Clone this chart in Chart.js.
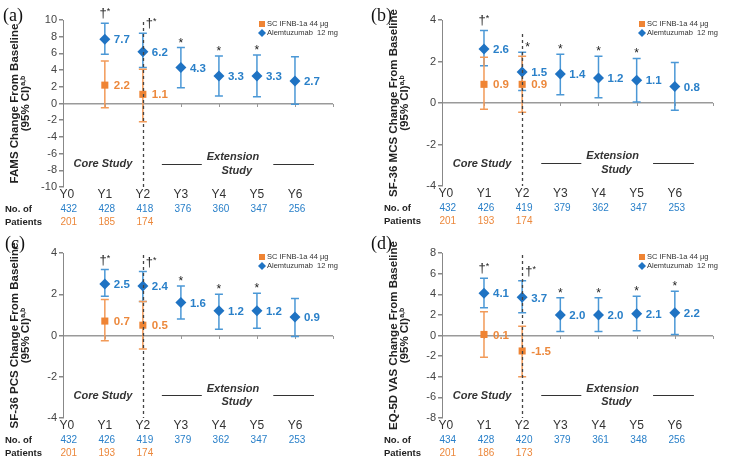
<!DOCTYPE html>
<html>
<head>
<meta charset="utf-8">
<script src="https://cdn.jsdelivr.net/npm/chart.js@4/dist/chart.umd.min.js"></script>
<style>
  body { margin: 0; background: #fff; width: 740px; height: 463px; position: relative; overflow: hidden; }
  canvas { position: absolute; }
</style>
</head>
<body>
<canvas id="pa" width="370" height="230" style="left:0;top:0"></canvas>
<canvas id="pb" width="370" height="230" style="left:370px;top:0"></canvas>
<canvas id="pc" width="370" height="233" style="left:0;top:230px"></canvas>
<canvas id="pd" width="370" height="233" style="left:370px;top:230px"></canvas>
<script>
const years = ["Y0", "Y1", "Y2", "Y3", "Y4", "Y5", "Y6"];

// (a) FAMS — alemtuzumab at Y1..Y6, IFNB at Y1..Y2
const famsAlem = [7.7, 6.2, 4.3, 3.3, 3.3, 2.7];
const famsAlemLo = [5.9, 4.3, 1.9, 0.9, 0.8, -0.1];
const famsAlemHi = [9.6, 8.4, 6.7, 5.7, 5.8, 5.6];
const famsIfn = [2.2, 1.1];
const famsIfnLo = [-0.5, -2.2];
const famsIfnHi = [5.1, 4.1];
const famsNAlem = [432, 428, 418, 376, 360, 347, 256];
const famsNIfn = [201, 185, 174];
const famsMarks = ["†*", "†*", "*", "*", "*", ""];

// (b) SF-36 MCS
const mcsAlem = [2.6, 1.5, 1.4, 1.2, 1.1, 0.8];
const mcsAlemLo = [1.8, 0.6, 0.4, 0.25, 0.05, -0.35];
const mcsAlemHi = [3.5, 2.45, 2.35, 2.25, 2.15, 1.95];
const mcsIfn = [0.9, 0.9];
const mcsIfnLo = [-0.3, -0.45];
const mcsIfnHi = [2.2, 2.25];
const mcsNAlem = [432, 426, 419, 379, 362, 347, 253];
const mcsNIfn = [201, 193, 174];
const mcsMarks = ["†*", "*", "*", "*", "*", ""];

// (c) SF-36 PCS
const pcsAlem = [2.5, 2.4, 1.6, 1.2, 1.2, 0.9];
const pcsAlemLo = [1.9, 1.65, 0.8, 0.3, 0.35, -0.05];
const pcsAlemHi = [3.2, 3.1, 2.4, 2.0, 2.05, 1.8];
const pcsIfn = [0.7, 0.5];
const pcsIfnLo = [-0.25, -0.65];
const pcsIfnHi = [1.75, 1.65];
const pcsNAlem = [432, 426, 419, 379, 362, 347, 253];
const pcsNIfn = [201, 193, 174];
const pcsMarks = ["†*", "†*", "*", "*", "*", ""];

// (d) EQ-5D VAS
const vasAlem = [4.1, 3.7, 2.0, 2.0, 2.1, 2.2];
const vasAlemLo = [2.7, 2.2, 0.4, 0.4, 0.45, 0.1];
const vasAlemHi = [5.55, 5.3, 3.65, 3.65, 3.8, 4.3];
const vasIfn = [0.1, -1.5];
const vasIfnLo = [-2.1, -4.0];
const vasIfnHi = [2.3, 0.9];
const vasNAlem = [434, 428, 420, 379, 361, 348, 256];
const vasNIfn = [201, 186, 173];
const vasMarks = ["†*", "†*", "*", "*", "*", "*"];

const BLUE = "#1f73c3", BLUE_BAR = "#4b98d6", BLUE_TXT = "#2a80c9";
const ORANGE = "#ef8434", ORANGE_BAR = "#f29a58", ORANGE_TXT = "#ec883c";
const FONT = '"Liberation Sans", Arial, sans-serif';

function errBar(ctx, xs, ys, xv, lo, hi, color) {
  const px = xs.getPixelForValue(xv);
  const a = ys.getPixelForValue(lo), b = ys.getPixelForValue(hi);
  ctx.strokeStyle = color;
  ctx.lineWidth = 1.5;
  ctx.beginPath();
  ctx.moveTo(px, a); ctx.lineTo(px, b);
  ctx.moveTo(px - 4, a); ctx.lineTo(px + 4, a);
  ctx.moveTo(px - 4, b); ctx.lineTo(px + 4, b);
  ctx.stroke();
}

function panel(id, p) {
  const el = document.getElementById(id);
  const W = el.width, H = el.height;

  const overlay = {
    id: "overlay",
    beforeDatasetsDraw(chart) {
      const { ctx, scales: { x, y } } = chart;
      ctx.save();
      // little ticks hanging under the zero line
      const z = Math.round(y.getPixelForValue(0));
      ctx.strokeStyle = "#999";
      ctx.lineWidth = 1;
      ctx.beginPath();
      for (let k = 1; k <= 7; k++) {
        const tx = Math.round(x.getPixelForValue(k)) + 0.5;
        ctx.moveTo(tx, z); ctx.lineTo(tx, z + 3);
      }
      ctx.stroke();
      p.alem.forEach((v, i) => errBar(ctx, x, y, i + 1, p.alemLo[i], p.alemHi[i], BLUE_BAR));
      p.ifn.forEach((v, i) => errBar(ctx, x, y, i + 1, p.ifnLo[i], p.ifnHi[i], ORANGE_BAR));
      ctx.restore();
    },
    afterDatasetsDraw(chart) {
      const { ctx, chartArea: ca, scales: { x, y } } = chart;
      const fy = f => y.getPixelForValue(y.min + f * (y.max - y.min));
      ctx.save();

      // dashed divider at Y2
      const dx = Math.round(x.getPixelForValue(2)) + 0.5;
      ctx.strokeStyle = "#444";
      ctx.lineWidth = 1.3;
      ctx.setLineDash([3, 3]);
      ctx.beginPath();
      ctx.moveTo(dx, ca.top + p.dashTop);
      ctx.lineTo(dx, ca.bottom);
      ctx.stroke();
      ctx.setLineDash([]);

      // value labels
      ctx.textBaseline = "middle";
      ctx.textAlign = "left";
      ctx.font = "bold 11.5px " + FONT;
      ctx.fillStyle = BLUE_TXT;
      p.alem.forEach((v, i) => ctx.fillText(v.toFixed(1), x.getPixelForValue(i + 1) + 9, y.getPixelForValue(v) + 1));
      ctx.fillStyle = ORANGE_TXT;
      p.ifn.forEach((v, i) => ctx.fillText(v.toFixed(1), x.getPixelForValue(i + 1) + 9, y.getPixelForValue(v) + 1));

      // significance marks
      ctx.textBaseline = "alphabetic";
      ctx.fillStyle = "#222";
      p.marks.forEach((m, i) => {
        if (!m) return;
        const px = x.getPixelForValue(i + 1);
        const cap = y.getPixelForValue(p.alemHi[i]);
        if (m === "†*") {
          ctx.font = "13px " + FONT;
          const wd = ctx.measureText("†").width;
          ctx.font = "9px " + FONT;
          const ws = ctx.measureText("*").width;
          let sx = i === 1 ? px + 3 : px - (wd + ws) / 2;
          ctx.textAlign = "left";
          ctx.font = "13px " + FONT;
          ctx.fillText("†", sx, cap - 6);
          ctx.font = "9px " + FONT;
          ctx.fillText("*", sx + wd, cap - 9);
        } else {
          ctx.font = "12px " + FONT;
          ctx.textAlign = i === 1 ? "left" : "center";
          ctx.fillText("*", i === 1 ? px + 3 : px, cap - 1);
        }
      });

      // study period labels
      ctx.fillStyle = "#333";
      ctx.font = "italic bold 11px " + FONT;
      ctx.textAlign = "center";
      ctx.textBaseline = "middle";
      ctx.fillText("Core Study", x.getPixelForValue(0.95), fy(0.135));
      ctx.fillText("Extension", x.getPixelForValue(4.37), fy(0.178));
      ctx.fillText("Study", x.getPixelForValue(4.47), fy(0.095));
      ctx.strokeStyle = "#333";
      ctx.lineWidth = 1;
      ctx.beginPath();
      const ly = Math.round(fy(0.14)) + 0.5;
      ctx.moveTo(x.getPixelForValue(2.5), ly); ctx.lineTo(x.getPixelForValue(3.55), ly);
      ctx.moveTo(x.getPixelForValue(5.43), ly); ctx.lineTo(x.getPixelForValue(6.5), ly);
      ctx.stroke();

      // legend
      const lx = ca.right - 74, l1 = ca.top + 4, l2 = ca.top + 13;
      ctx.fillStyle = ORANGE;
      ctx.fillRect(lx, l1 - 3, 6, 6);
      ctx.fillStyle = BLUE;
      ctx.beginPath();
      ctx.moveTo(lx + 3, l2 - 4); ctx.lineTo(lx + 7, l2); ctx.lineTo(lx + 3, l2 + 4); ctx.lineTo(lx - 1, l2);
      ctx.closePath(); ctx.fill();
      ctx.fillStyle = "#333";
      ctx.font = "7.5px " + FONT;
      ctx.textAlign = "left";
      ctx.fillText("SC IFNB-1a 44 µg", lx + 8, l1);
      ctx.fillText("Alemtuzumab  12 mg", lx + 8, l2);

      // patient numbers
      const r1 = ca.bottom + 22, r2 = ca.bottom + 35;
      ctx.font = "bold 9.5px " + FONT;
      ctx.fillStyle = "#222";
      ctx.fillText("No. of", ca.left - 58, r1);
      ctx.fillText("Patients", ca.left - 58, r2);
      ctx.font = "10px " + FONT;
      ctx.textAlign = "center";
      ctx.fillStyle = BLUE_TXT;
      p.nAlem.forEach((n, i) => ctx.fillText(String(n), x.getPixelForValue(i) + 2, r1));
      ctx.fillStyle = ORANGE_TXT;
      p.nIfn.forEach((n, i) => ctx.fillText(String(n), x.getPixelForValue(i) + 2, r2));

      // y-axis title (rotated, two lines)
      const cy = (ca.top + ca.bottom) / 2;
      ctx.fillStyle = "#222";
      ctx.textBaseline = "alphabetic";
      ctx.save();
      ctx.translate(p.t1, cy);
      ctx.rotate(-Math.PI / 2);
      ctx.font = "bold 11.5px " + FONT;
      ctx.textAlign = "center";
      ctx.fillText(p.title, 0, 0);
      ctx.restore();
      ctx.save();
      ctx.translate(p.t2, cy);
      ctx.rotate(-Math.PI / 2);
      ctx.font = "bold 11.5px " + FONT;
      const w1 = ctx.measureText("(95% CI)").width;
      ctx.font = "bold 7px " + FONT;
      const w2 = ctx.measureText("a,b").width;
      ctx.textAlign = "left";
      ctx.font = "bold 11.5px " + FONT;
      ctx.fillText("(95% CI)", -(w1 + w2) / 2, 0);
      ctx.font = "bold 7px " + FONT;
      ctx.fillText("a,b", -(w1 + w2) / 2 + w1, -4);
      ctx.restore();

      // panel letter
      ctx.font = "18px 'Liberation Serif', 'Times New Roman', serif";
      ctx.textAlign = "left";
      ctx.fillStyle = "#111";
      ctx.fillText(p.letter, p.lx, p.ly);
      ctx.restore();
    }
  };

  new Chart(el, {
    type: "scatter",
    data: {
      datasets: [
        {
          label: "Alemtuzumab 12 mg",
          data: p.alem.map((v, i) => ({ x: i + 1, y: v })),
          pointStyle: "rectRot",
          pointRadius: 5.5,
          backgroundColor: BLUE,
          borderColor: BLUE,
          borderWidth: 0
        },
        {
          label: "SC IFNB-1a 44 µg",
          data: p.ifn.map((v, i) => ({ x: i + 1, y: v })),
          pointStyle: "rect",
          pointRadius: 5,
          backgroundColor: ORANGE,
          borderColor: ORANGE,
          borderWidth: 0
        }
      ]
    },
    options: {
      responsive: false,
      animation: false,
      events: [],
      layout: { padding: { left: 0, top: p.top, right: W - p.right, bottom: 0 } },
      plugins: { legend: { display: false }, tooltip: { enabled: false } },
      scales: {
        x: {
          type: "linear",
          min: -0.1,
          max: 7,
          afterFit: s => { s.height = H - p.bottom; },
          afterBuildTicks: s => { s.ticks = years.map((_, i) => ({ value: i })); },
          grid: { display: false, drawTicks: false },
          border: { display: false },
          ticks: {
            autoSkip: false,
            maxRotation: 0,
            padding: 0,
            color: "#333",
            font: { size: 12, family: FONT },
            callback: v => years[Math.round(v)]
          }
        },
        y: {
          min: p.yMin,
          max: p.yMax,
          afterFit: s => { s.width = p.left; },
          border: { display: true, color: "#888", width: 1 },
          grid: {
            drawOnChartArea: true,
            color: c => (c.tick && c.tick.value === 0 ? "#9a9a9a" : "rgba(0,0,0,0)"),
            lineWidth: 1.5,
            tickLength: 4,
            tickColor: "#888"
          },
          ticks: {
            stepSize: p.step,
            padding: 2,
            color: "#444",
            font: { size: 11, family: FONT }
          }
        }
      }
    },
    plugins: [overlay]
  });
}

panel("pa", {
  alem: famsAlem, alemLo: famsAlemLo, alemHi: famsAlemHi,
  ifn: famsIfn, ifnLo: famsIfnLo, ifnHi: famsIfnHi,
  nAlem: famsNAlem, nIfn: famsNIfn, marks: famsMarks,
  yMin: -10, yMax: 10, step: 2, title: "FAMS Change From Baseline",
  left: 63, right: 333, top: 20, bottom: 187, t1: 18, t2: 29, letter: "(a)", lx: 3, ly: 21, dashTop: 2
});
panel("pb", {
  alem: mcsAlem, alemLo: mcsAlemLo, alemHi: mcsAlemHi,
  ifn: mcsIfn, ifnLo: mcsIfnLo, ifnHi: mcsIfnHi,
  nAlem: mcsNAlem, nIfn: mcsNIfn, marks: mcsMarks,
  yMin: -4, yMax: 4, step: 2, title: "SF-36 MCS Change From Baseline",
  left: 72, right: 343, top: 20, bottom: 186, t1: 27, t2: 38, letter: "(b)", lx: 1, ly: 21, dashTop: 14
});
panel("pc", {
  alem: pcsAlem, alemLo: pcsAlemLo, alemHi: pcsAlemHi,
  ifn: pcsIfn, ifnLo: pcsIfnLo, ifnHi: pcsIfnHi,
  nAlem: pcsNAlem, nIfn: pcsNIfn, marks: pcsMarks,
  yMin: -4, yMax: 4, step: 2, title: "SF-36 PCS Change From Baseline",
  left: 63, right: 333, top: 23, bottom: 188, t1: 18, t2: 29, letter: "(c)", lx: 5, ly: 19, dashTop: 2
});
panel("pd", {
  alem: vasAlem, alemLo: vasAlemLo, alemHi: vasAlemHi,
  ifn: vasIfn, ifnLo: vasIfnLo, ifnHi: vasIfnHi,
  nAlem: vasNAlem, nIfn: vasNIfn, marks: vasMarks,
  yMin: -8, yMax: 8, step: 2, title: "EQ-5D VAS Change From Baseline",
  left: 72, right: 343, top: 23, bottom: 188, t1: 27, t2: 38, letter: "(d)", lx: 1, ly: 19, dashTop: 2
});
</script>
</body>
</html>
